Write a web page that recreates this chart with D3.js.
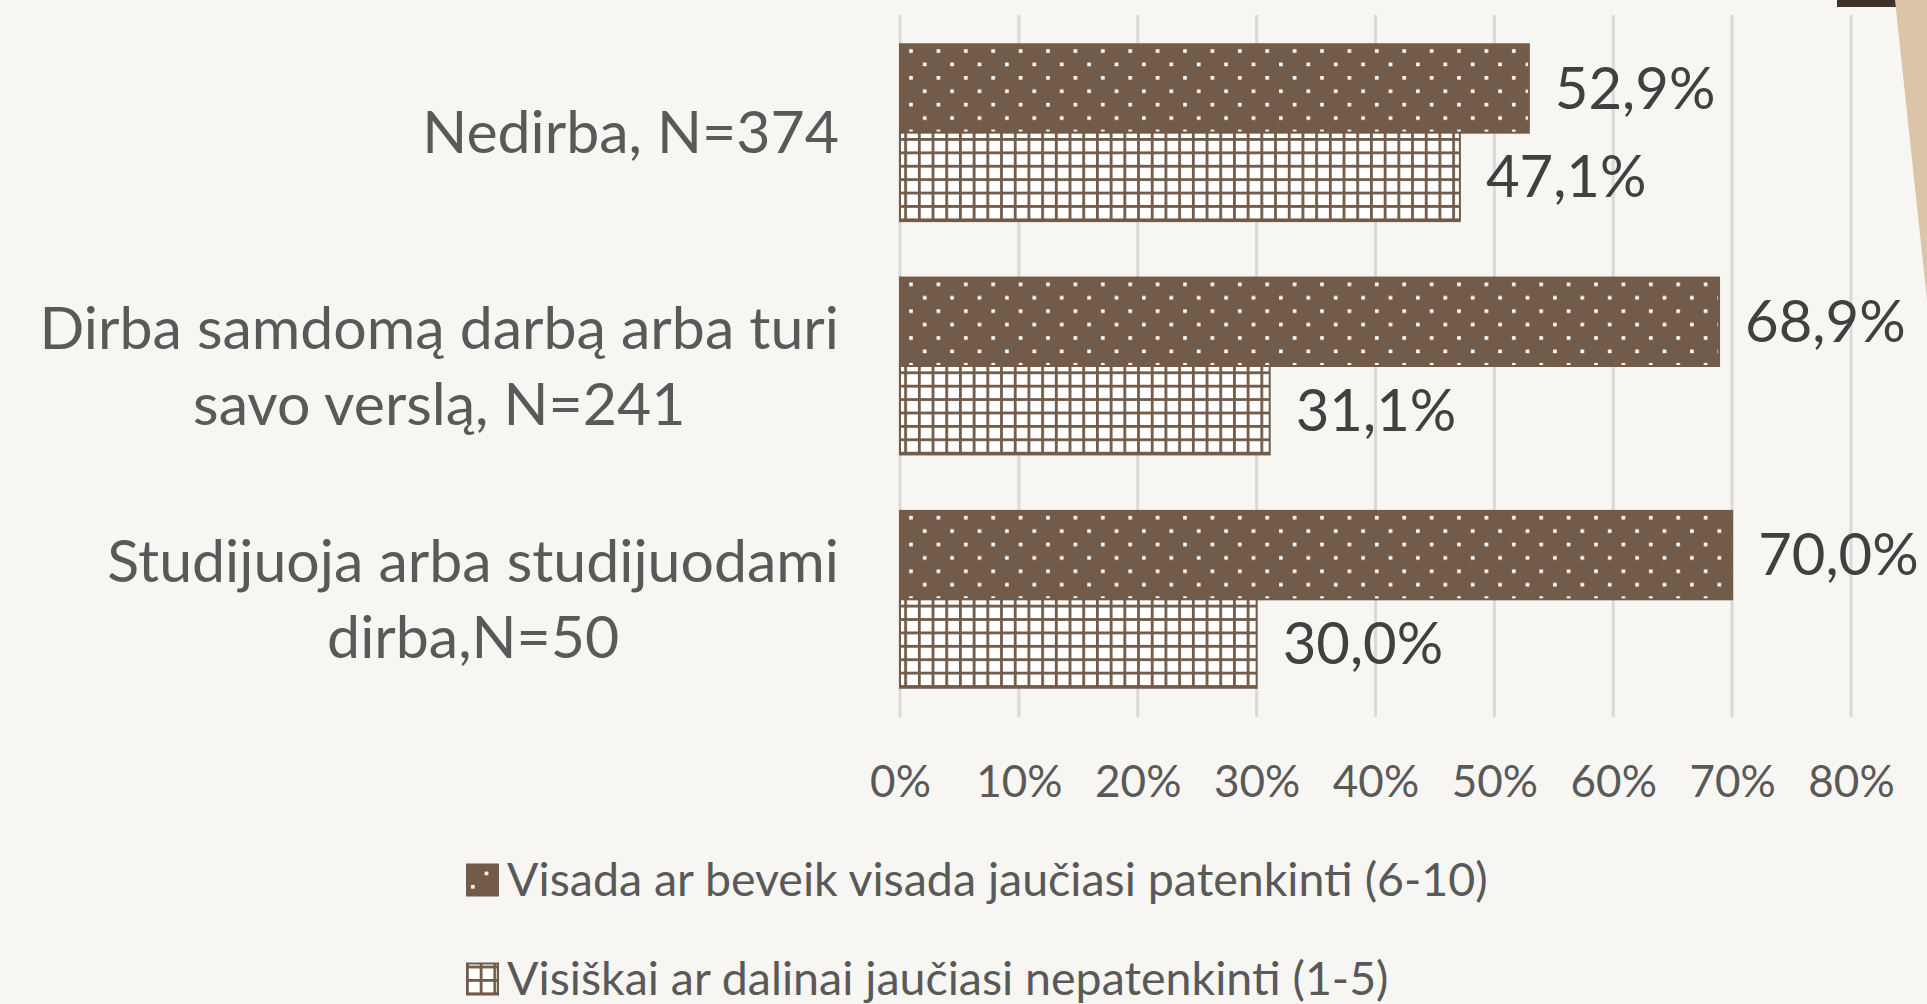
<!DOCTYPE html>
<html>
<head>
<meta charset="utf-8">
<script src="https://cdn.jsdelivr.net/npm/d3@7"></script>
<style>
  html, body { margin: 0; padding: 0; background: #f7f6f2; }
  svg { display: block; }
  text { font-family: Lato, "Noto Sans", sans-serif; }
</style>
</head>
<body>
<div class="vis-barchart"></div>
<script>
// data
const categories = ['Nedirba, N=374', 'Dirba samdomą darbą arba turi savo verslą, N=241', 'Studijuoja arba studijuodami dirba,N=50'];
const categoryLines = [['Nedirba, N=374'], ['Dirba samdomą darbą arba turi', 'savo verslą, N=241'], ['Studijuoja arba studijuodami', 'dirba,N=50']];
const seriesNames = ['Visada ar beveik visada jaučiasi patenkinti (6-10)', 'Visiškai ar dalinai jaučiasi nepatenkinti (1-5)'];
const satisfied = [0.529, 0.689, 0.700];
const dissatisfied = [0.471, 0.311, 0.300];
const ticks = [0, 0.1, 0.2, 0.3, 0.4, 0.5, 0.6, 0.7, 0.8];

const W = 1927, H = 1004;
const brown = '#725b49';

const svg = d3.select('.vis-barchart').append('svg')
    .attr('width', W)
    .attr('height', H);

svg.append('rect').attr('width', W).attr('height', H).attr('fill', '#f7f6f2');

// patterns
const defs = svg.append('defs');
const dots = defs.append('pattern')
    .attr('id', 'dots')
    .attr('patternUnits', 'userSpaceOnUse')
    .attr('width', 27.4).attr('height', 26.8);
dots.append('rect').attr('width', 27.4).attr('height', 26.8).attr('fill', brown);
dots.append('rect').attr('x', 5).attr('y', 5).attr('width', 3.6).attr('height', 3.6).attr('fill', '#fff');
dots.append('rect').attr('x', 18.7).attr('y', 18.4).attr('width', 3.6).attr('height', 3.6).attr('fill', '#fff');

const grid = defs.append('pattern')
    .attr('id', 'grid')
    .attr('patternUnits', 'userSpaceOnUse')
    .attr('width', 13.7).attr('height', 13.4);
grid.append('rect').attr('width', 13.7).attr('height', 13.4).attr('fill', '#fff');
grid.append('rect').attr('width', 13.7).attr('height', 2.8).attr('fill', brown);
grid.append('rect').attr('width', 2.8).attr('height', 13.4).attr('fill', brown);

const fills = ['url(#dots)', 'url(#grid)'];

// scales
const x = d3.scaleLinear().domain([0, 0.8]).range([900, 1851]);
const y = d3.scaleBand().domain(categories).range([16, 716]).paddingInner(0.242).paddingOuter(0.121);
const ySub = d3.scaleBand().domain(seriesNames).range([0, y.bandwidth()]);

// gridlines
svg.append('g').selectAll('line')
    .data(ticks)
    .enter().append('line')
    .attr('x1', d => x(d)).attr('x2', d => x(d))
    .attr('y1', 15).attr('y2', 717)
    .attr('stroke', '#d9d9d9')
    .attr('stroke-width', 3);

// x axis labels
const xAxis = svg.append('g')
    .attr('transform', 'translate(0,797)')
    .call(d3.axisBottom(x).tickValues(ticks).tickFormat(d3.format('.0%')).tickSize(0).tickPadding(0));
xAxis.select('.domain').remove();
xAxis.selectAll('text')
    .attr('dy', 0)
    .attr('font-size', 44)
    .attr('fill', '#595959')
    .style('font-family', 'Lato, "Noto Sans", sans-serif');

// bars
const rows = categories.map((c, i) => ({cat: c, values: [satisfied[i], dissatisfied[i]]}));
const fmt = v => d3.format('.1f')(v * 100).replace('.', ',') + '%';

const groups = svg.append('g').selectAll('g')
    .data(rows)
    .enter().append('g')
    .attr('transform', d => 'translate(0,' + y(d.cat) + ')');

groups.selectAll('rect')
    .data(d => d.values.map((v, j) => ({v: v, s: seriesNames[j], j: j})))
    .enter().append('rect')
    .attr('x', x(0))
    .attr('y', d => ySub(d.s))
    .attr('width', d => x(d.v) - x(0))
    .attr('height', ySub.bandwidth())
    .attr('fill', d => fills[d.j])
    .attr('stroke', brown)
    .attr('stroke-width', 2);

groups.selectAll('text.val')
    .data(d => d.values.map((v, j) => ({v: v, s: seriesNames[j]})))
    .enter().append('text')
    .attr('class', 'val')
    .attr('x', d => x(d.v) + 26)
    .attr('y', d => ySub(d.s) + ySub.bandwidth() / 2)
    .attr('dy', '0.35em')
    .attr('font-size', 58)
    .attr('fill', '#404040')
    .text(d => fmt(d.v));

// category labels: lines centred inside a right-aligned block
const labelRight = 839;
categoryLines.forEach((lines, i) => {
    const g = svg.append('g');
    const cy = y(categories[i]) + y.bandwidth() / 2;
    const lh = 76;
    const ts = lines.map((l, k) => g.append('text')
        .attr('y', cy + (k - (lines.length - 1) / 2) * lh)
        .attr('dy', '0.35em')
        .attr('font-size', 59)
        .attr('fill', '#595959')
        .attr('text-anchor', 'middle')
        .text(l));
    const wmax = d3.max(ts, t => t.node().getComputedTextLength());
    ts.forEach(t => t.attr('x', labelRight - wmax / 2));
});

// legend
const legend = svg.append('g').selectAll('g')
    .data(seriesNames)
    .enter().append('g')
    .attr('transform', (d, i) => 'translate(466,' + (880 + i * 99) + ')');
legend.append('rect')
    .attr('x', 1).attr('y', -15.5)
    .attr('width', 31).attr('height', 31)
    .attr('fill', (d, i) => fills[i])
    .attr('stroke', brown)
    .attr('stroke-width', 2);
legend.append('text')
    .attr('x', 41)
    .attr('dy', '0.35em')
    .attr('font-size', 46.5)
    .attr('fill', '#595959')
    .text(d => d);

// corner decoration
svg.append('rect').attr('x', 1837).attr('y', 0).attr('width', 59).attr('height', 7).attr('fill', '#3e322b');
svg.append('polygon').attr('points', '1895,0 1927,0 1927,300').attr('fill', '#dcc4a9');
</script>
</body>
</html>
